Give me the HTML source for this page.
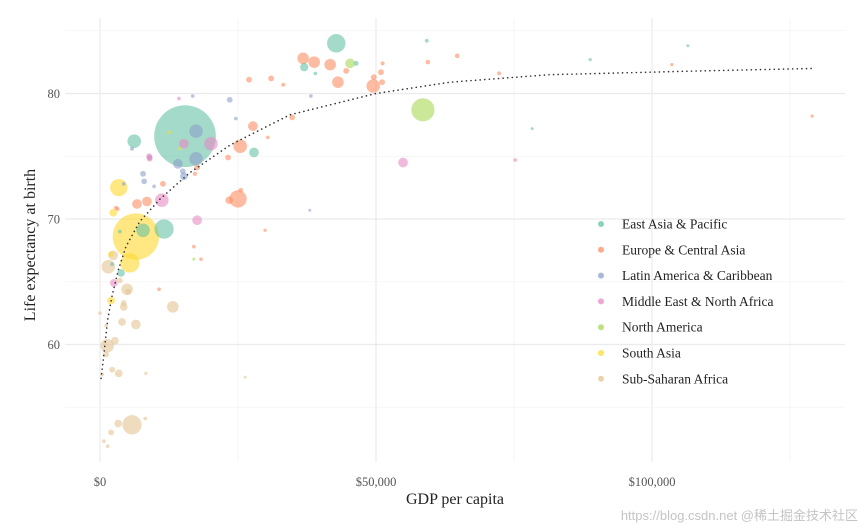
<!DOCTYPE html>
<html><head><meta charset="utf-8"><style>
html,body{margin:0;padding:0;background:#fff;}
svg{display:block;font-family:"Liberation Serif",serif;}
</style></head><body>
<svg id="chart" width="865" height="531"></svg>
<script>
const regions=["East Asia & Pacific","Europe & Central Asia","Latin America & Caribbean","Middle East & North Africa","North America","South Asia","Sub-Saharan Africa"];
const colors=["#66c2a5","#fc8d62","#8da0cb","#e78ac3","#a6d854","#ffd92f","#e5c494"];
const xTicks=[0,50,100];
const xTickLabels=["$0","$50,000","$100,000"];
const yTicks=[60,70,80];
// each: [gdp (thousand $), life expectancy, population (millions), region index]
const gdp=[15.4,42.8,37,39,46.4,59.2,88.8,106.5,78.3,6.2,11.6,7.8,27.9,3.6,3.8,2.2,17.4,
6.5,5.4,3.4,2.4,2.0,12.5,14.5,2.0,
58.5,45.3,17,
36.8,38.8,41.7,43.1,49.5,44.6,49.6,50.9,51.1,51.2,27,31,33.2,59.4,64.7,72.3,103.6,129,27.7,25.4,34.8,30.4,23.2,17.6,23.4,25,25.5,11.4,8.5,6.7,17.2,17,18.3,2.9,3.2,29.9,10.7,8.3,
17.4,5.8,9,7.8,16.8,23.5,24.6,14.1,15.2,38,38.2,4.3,8,9.8,15,
14.3,20.1,15.2,11.2,17.6,54.9,75.2,9,2.5,8.9,
5.8,3.3,2.0,0.7,1.4,1.3,2.7,1.1,1.5,2.4,4.9,4.3,4,6.5,13.2,3.4,2.2,0.4,3.6,4.3,5.1,0,1.1,8.2,26.3];
const life=[76.6,84.0,82.1,81.6,82.4,84.2,82.7,83.8,77.2,76.2,69.2,69.1,75.3,69.0,65.7,66.4,74.8,
68.6,66.5,72.5,70.5,63.5,76.9,75.6,67.2,
78.7,82.4,66.8,
82.8,82.5,82.3,80.9,80.6,81.8,81.3,81.7,80.9,82.4,81.1,81.2,80.7,82.5,83.0,81.6,82.3,78.2,77.4,75.8,78.1,76.5,74.9,74.1,71.5,71.6,72.3,72.8,71.4,71.2,73.6,67.8,66.8,70.9,70.8,69.1,64.4,57.7,
77.0,75.6,74.9,73.6,79.8,79.5,78.0,74.4,73.4,70.7,79.8,72.8,73.0,72.6,73.8,
79.6,76.0,76.0,71.5,69.9,74.5,74.7,74.8,64.9,75.0,
53.6,53.7,53.0,52.3,51.9,59.9,60.3,59.2,66.2,67.1,64.4,63.0,61.8,61.6,63.0,57.7,58.0,57.6,65.1,63.3,64.2,62.5,61.5,54.1,57.4];
const pop=[1417,127,26,5,9,5.5,4,3,2.5,68,138,68,35,5.5,22,5.5,68,
800,138,112,22,22,5,4,12.5,
200,35,3,
50,50,50,50,68,12.5,12.5,12.5,12.5,6,12.5,12.5,6,8,8,6,4,4,35,68,12.5,5,12.5,12.5,22,112,8,12.5,35,35,6,5,5,6,6,4,5,4,
68,6,12.5,12.5,5,12.5,5,35,22,3,5,5,12.5,5,12.5,
5,68,35,68,35,35,5,12.5,22,12.5,
138,22,12.5,5,5,68,22,12.5,68,35,50,22,22,35,50,22,12.5,5,12.5,12.5,12.5,5,5,5,3];
const region=[0,0,0,0,0,0,0,0,0,0,0,0,0,0,0,0,2,
5,5,5,5,5,5,5,5,
4,4,4,
1,1,1,1,1,1,1,1,1,1,1,1,1,1,1,1,1,1,1,1,1,1,1,1,1,1,1,1,1,1,1,1,1,1,1,1,1,6,
2,2,2,2,2,2,2,2,2,2,2,2,2,2,2,
3,3,3,3,3,3,3,3,3,3,
6,6,6,6,6,6,6,6,6,6,6,6,6,6,6,6,6,6,6,6,6,6,6,6,6];
const trendGdp=[0.2,0.7,1.4,2.2,3.3,4.7,7.2,10.9,16.3,23.6,34.4,50,63.4,81.5,108.7,129.5];
const trendLife=[57.3,59.2,62.0,63.9,65.9,67.8,69.8,71.6,73.7,75.9,78.3,80,80.9,81.5,81.8,82];

const NS="http://www.w3.org/2000/svg";
const svg=document.getElementById('chart');
const X=v=>100+v*5.52;
const Y=v=>93.5+(80-v)*12.55;
function mk(tag,attrs,parent){const e=document.createElementNS(NS,tag);for(const k in attrs)e.setAttribute(k,attrs[k]);(parent||svg).appendChild(e);return e;}
const grid=mk('g',{});


for(let v=0;v<=125;v+=25){const l=mk('line',{x1:X(v),x2:X(v),y1:18,y2:462,stroke:v%50===0?'#ebebeb':'#f3f3f3','stroke-width':v%50===0?1.2:0.8},grid);

}
for(let v=55;v<=85;v+=5){const l=mk('line',{x1:65,x2:845,y1:Y(v),y2:Y(v),stroke:v%10===0?'#ebebeb':'#f3f3f3','stroke-width':v%10===0?1.2:0.8},grid);

}
xTicks.forEach((v,i)=>{const t=mk('text',{x:X(v),y:486,'text-anchor':'middle','font-size':12.5,fill:'#555'});t.textContent=xTickLabels[i];

});
yTicks.forEach(v=>{const t=mk('text',{x:60,y:Y(v)+4.5,'text-anchor':'end','font-size':12.5,fill:'#555'});t.textContent=v;

});
const xt=mk('text',{x:455,y:504,'text-anchor':'middle','font-size':16,fill:'#222'});xt.textContent='GDP per capita';


const yt=mk('text',{x:0,y:0,'text-anchor':'middle','font-size':16,fill:'#222',transform:'translate(35,245) rotate(-90)'});yt.textContent='Life expectancy at birth';


const pts=mk('g',{});


const order=gdp.map((_,i)=>i).sort((a,b)=>pop[b]-pop[a]);
order.forEach(i=>{const c=mk('circle',{cx:X(gdp[i]),cy:Y(life[i]),r:Math.max(1.5,0.82*Math.sqrt(pop[i])),fill:colors[region[i]],'fill-opacity':0.6},pts);

});
const d=trendGdp.map((g,i)=>(i?'L':'M')+X(g)+','+Y(trendLife[i])).join(' ');
const tr=mk('path',{d:d,fill:'none',stroke:'#333','stroke-width':1.6,'stroke-dasharray':'0.1 4.5','stroke-linecap':'round'});


const lg=mk('g',{});


regions.forEach((r,i)=>{const yy=224+i*25.8;
const c=mk('circle',{cx:601,cy:yy,r:3,fill:colors[i],'fill-opacity':0.75},lg);


const t=mk('text',{x:622,y:yy+4.5,'font-size':13.5,fill:'#222'},lg);t.textContent=r;

});
const wm=mk('text',{x:858,y:520,'text-anchor':'end','font-size':13,fill:'#c4c4c4','font-family':'"Liberation Sans","Noto Sans CJK SC",sans-serif'});wm.textContent='https://blog.csdn.net @稀土掘金技术社区';


</script>
</body></html>
